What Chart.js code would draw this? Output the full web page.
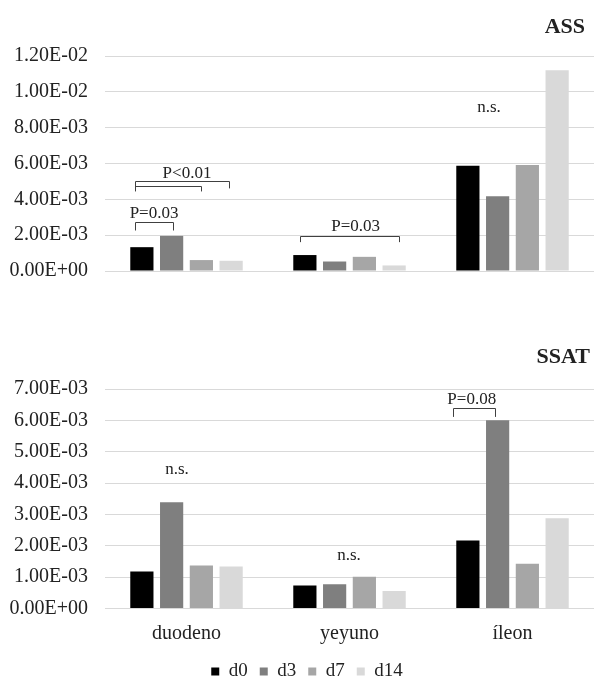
<!DOCTYPE html>
<html><head><meta charset="utf-8">
<script src="https://cdn.jsdelivr.net/npm/chart.js@4.4.1/dist/chart.umd.min.js"></script>
<style>
html,body{margin:0;padding:0;background:#fff;overflow:hidden;}
#wrap{position:relative;width:595px;height:679px;overflow:hidden;background:#fff;}
canvas{position:absolute;left:0;}
#c1{top:0;} #c2{top:300px;}
</style></head><body>
<div id="wrap"><canvas id="c1" width="595" height="300"></canvas><canvas id="c2" width="595" height="391"></canvas></div>
<script>
const categories = ['duodeno', 'yeyuno', 'íleon'];
const seriesNames = ['d0', 'd3', 'd7', 'd14'];
const seriesColors = ['#000000', '#7f7f7f', '#a6a6a6', '#d9d9d9'];

const assD0  = [1.33e-3, 0.89e-3, 5.87e-3];
const assD3  = [1.96e-3, 0.53e-3, 4.17e-3];
const assD7  = [0.61e-3, 0.79e-3, 5.92e-3];
const assD14 = [0.57e-3, 0.31e-3, 11.2e-3];

const ssatD0  = [1.18e-3, 0.73e-3, 2.17e-3];
const ssatD3  = [3.39e-3, 0.77e-3, 6.00e-3];
const ssatD7  = [1.37e-3, 1.01e-3, 1.43e-3];
const ssatD14 = [1.34e-3, 0.56e-3, 2.88e-3];

const assTickLabels  = ['0.00E+00', '2.00E-03', '4.00E-03', '6.00E-03', '8.00E-03', '1.00E-02', '1.20E-02'];
const ssatTickLabels = ['0.00E+00', '1.00E-03', '2.00E-03', '3.00E-03', '4.00E-03', '5.00E-03', '6.00E-03', '7.00E-03'];

// significance annotations (x in category units, y in data units)
const assBrackets = [
  {x1: -0.318, x2: -0.083, y: 2.72e-3, e1: 2.26e-3, e2: 2.26e-3},
  {x1: -0.318, x2: 0.263,  y: 5.02e-3, e1: 4.44e-3, e2: 4.61e-3},
  {x1: -0.318, x2: 0.089,  y: 4.76e-3, e1: 4.76e-3, e2: 4.44e-3},
  {x1: 0.696,  x2: 1.304,  y: 1.98e-3, e1: 1.61e-3, e2: 1.61e-3}
];
const assNotes = [
  {text: 'P=0.03', x: -0.199, y: 2.94e-3},
  {text: 'P<0.01', x: 0.003,  y: 5.17e-3},
  {text: 'P=0.03', x: 1.038,  y: 2.22e-3},
  {text: 'n.s.',   x: 1.856,  y: 8.85e-3}
];
const ssatBrackets = [
  {x1: 1.633, x2: 1.893, y: 6.39e-3, e1: 6.11e-3, e2: 6.11e-3}
];
const ssatNotes = [
  {text: 'n.s.',   x: -0.058, y: 4.30e-3},
  {text: 'n.s.',   x: 0.997,  y: 1.56e-3},
  {text: 'P=0.08', x: 1.75,   y: 6.53e-3}
];

const SERIF = "'Liberation Serif', 'Times New Roman', serif";
const TXT = '#222222';

const annotPlugin = {
  id: 'annot',
  afterLayout(chart, args, opts) {
    if (opts.legendShift && chart.legend) {
      chart.legend.left += opts.legendShift;
      chart.legend.right += opts.legendShift;
    }
  },
  afterDatasetsDraw(chart, args, opts) {
    const ctx = chart.ctx, xs = chart.scales.x, ys = chart.scales.y;
    ctx.save();
    ctx.strokeStyle = '#404040';
    ctx.lineWidth = 1;
    (opts.brackets || []).forEach(b => {
      const x1 = Math.round(xs.getPixelForValue(b.x1)) + 0.5;
      const x2 = Math.round(xs.getPixelForValue(b.x2)) + 0.5;
      const y = Math.round(ys.getPixelForValue(b.y)) + 0.5;
      ctx.beginPath();
      ctx.moveTo(x1, ys.getPixelForValue(b.e1));
      ctx.lineTo(x1, y);
      ctx.lineTo(x2, y);
      ctx.lineTo(x2, ys.getPixelForValue(b.e2));
      ctx.stroke();
    });
    ctx.fillStyle = TXT;
    ctx.font = "17px " + SERIF;
    ctx.textAlign = 'center';
    ctx.textBaseline = 'alphabetic';
    (opts.notes || []).forEach(n => {
      ctx.fillText(n.text, xs.getPixelForValue(n.x), ys.getPixelForValue(n.y));
    });
    if (opts.title) {
      ctx.font = "bold 22px " + SERIF;
      ctx.textAlign = 'right';
      ctx.fillText(opts.title, chart.chartArea.right - opts.titleInset, opts.titleBaseline);
    }
    ctx.restore();
  }
};

function makeDatasets(arrs) {
  return arrs.map((d, i) => ({
    label: seriesNames[i],
    data: d,
    backgroundColor: seriesColors[i],
    borderWidth: 0,
    categoryPercentage: 0.73,
    barPercentage: 0.78
  }));
}

function yScale(max, step, labels) {
  return {
    min: 0, max: max,
    afterFit(s) { s.width = 105; },
    ticks: {
      stepSize: step,
      padding: 17,
      color: TXT,
      font: {family: SERIF, size: 20},
      callback: (v, i) => labels[i]
    },
    grid: {color: '#d9d9d9', lineWidth: 1, drawTicks: false},
    border: {display: false}
  };
}

new Chart(document.getElementById('c1'), {
  type: 'bar',
  data: {labels: categories, datasets: makeDatasets([assD0, assD3, assD7, assD14])},
  options: {
    responsive: false, animation: false,
    layout: {padding: {left: 0, right: 1, top: 56, bottom: 28}},
    scales: {
      x: {display: false},
      y: yScale(0.012, 0.002, assTickLabels)
    },
    plugins: {
      legend: {display: false}, tooltip: {enabled: false},
      annot: {brackets: assBrackets, notes: assNotes, title: 'ASS', titleInset: 9, titleBaseline: 33}
    }
  },
  plugins: [annotPlugin]
});

new Chart(document.getElementById('c2'), {
  type: 'bar',
  data: {labels: categories, datasets: makeDatasets([ssatD0, ssatD3, ssatD7, ssatD14])},
  options: {
    responsive: false, animation: false,
    layout: {padding: {left: 0, right: 1, top: 89, bottom: 0}},
    scales: {
      x: {
        afterFit(s) { s.height = 41.5; },
        ticks: {padding: 13, color: TXT, font: {family: SERIF, size: 20}},
        grid: {display: false, drawTicks: false},
        border: {display: false}
      },
      y: yScale(0.007, 0.001, ssatTickLabels)
    },
    plugins: {
      legend: {
        position: 'bottom',
        labels: {boxWidth: 8, boxHeight: 8, padding: 12, color: TXT, font: {family: SERIF, size: 19}}
      },
      tooltip: {enabled: false},
      annot: {brackets: ssatBrackets, notes: ssatNotes, title: 'SSAT', titleInset: 4, titleBaseline: 63, legendShift: 10}
    }
  },
  plugins: [annotPlugin]
});
</script>
</body></html>
